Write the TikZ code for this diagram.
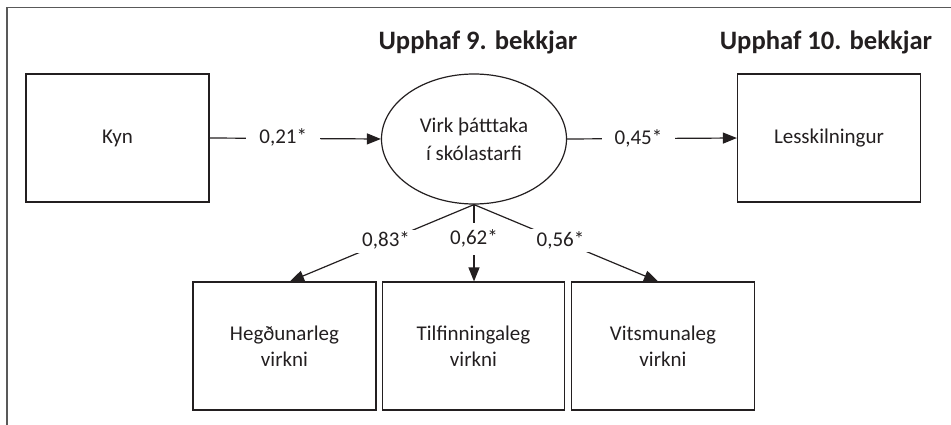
\documentclass[tikz,border=0pt]{standalone}
\usepackage{fontspec}
\setmainfont{Carlito}
\usetikzlibrary{arrows.meta,shapes.geometric}
\definecolor{ink}{HTML}{231F20}
\begin{document}
\begin{tikzpicture}[x=1pt,y=-1pt,
  box/.style={draw=ink, line width=1.2pt, minimum width=183pt, minimum height=128pt, inner sep=0pt, align=center, font=\fontsize{21}{26.5}\selectfont, text=ink},
  oval/.style={ellipse, draw=ink, line width=1.2pt, minimum width=185pt, minimum height=130pt, inner sep=0pt, align=center, font=\fontsize{21}{28}\selectfont, text=ink},
  head/.style={font=\bfseries\fontsize{26.6}{30}\selectfont, text=ink, anchor=base, inner sep=0pt},
  lbl/.style={fill=white, inner xsep=13pt, inner ysep=2pt, text height=15pt, text depth=4pt, font=\fontsize{21}{26}\selectfont, text=ink},
  conn/.style={draw=ink, line width=1.2pt, -{Triangle[length=14pt,width=11pt]}},
  frame/.style={draw=black!65, line width=1.6pt}]
\useasboundingbox (0,0) rectangle (951,425);
\coordinate (fA) at (951,7.5);
\coordinate (fB) at (7,7.5);
\coordinate (fC) at (7,425);
\draw[frame] (fA) -- (fB) -- (fC);

\node[head] (h9) at (478,50) {Upphaf 9. bekkjar};
\node[head] (h10) at (826,50) {Upphaf 10. bekkjar};

\node[box] (kyn) at (117.5,138) {Kyn};
\node[oval] (virk) at (474,139) {Virk þátttaka\\í skólastarfi};
\node[box] (les) at (829,138) {Lesskilningur};
\node[box] (heg) at (284.5,346) {Hegðunarleg\\virkni};
\node[box, minimum width=182pt] (til) at (473.5,346) {Tilfinningaleg\\virkni};
\node[box] (vit) at (663,346) {Vitsmunaleg\\virkni};

\draw[conn] (kyn.east) -- node[lbl,pos=0.43]{0,21*} (virk.west);
\draw[conn] (virk.east) -- node[lbl,pos=0.42]{0,45*} (les.west);
\draw[conn] (virk.south) -- node[lbl,pos=0.478]{0,83*} ([xshift=5.5pt]heg.north);
\draw[conn] (virk.south) -- node[lbl,pos=0.447,inner ysep=6.5pt]{0,62*} (virk.south |- til.north);
\draw[conn] (virk.south) -- node[lbl,pos=0.47]{0,56*} ([xshift=-5pt]vit.north);
\end{tikzpicture}
\end{document}
